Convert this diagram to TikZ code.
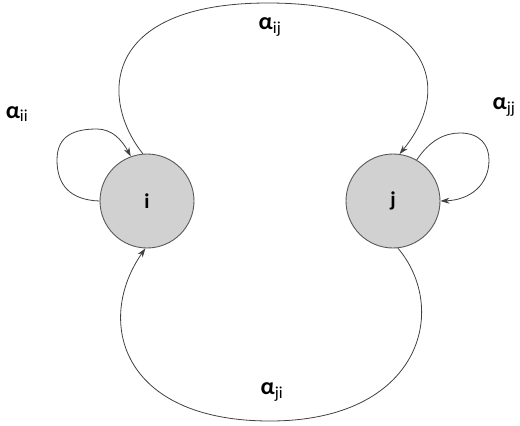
\documentclass[tikz,border=0pt]{standalone}
\usepackage{fontspec}
\setmainfont{Carlito}
\usetikzlibrary{arrows.meta}
\begin{document}
\begin{tikzpicture}[>={Stealth[length=9pt,width=6pt]},x=1pt,y=-1pt]
    \useasboundingbox (0,0) rectangle (520,426);
    \tikzset{state/.style={circle,draw=black!65,line width=0.9pt,fill=black!18,minimum size=94pt,inner sep=0pt,font=\fontsize{21}{24}\selectfont\bfseries},
             lbl/.style={font=\fontsize{24}{28}\selectfont},
             arc/.style={->,black!75,line width=0.8pt}}
    \node[state](i) at (147,201){i};
    \node[state](j) at (393,201){j};
    \node[lbl](aii) at (17,114){\textbf{α}\textsubscript{ii}};
    \node[lbl](aij) at (270,27){\textbf{α}\textsubscript{ij}};
    \node[lbl](ajj) at (504,107){\textbf{α}\textsubscript{jj}};
    \node[lbl](aji) at (272,392){\textbf{α}\textsubscript{ji}};
    \coordinate (top) at (268,3);
    \coordinate (bot) at (270,421);
    \draw[arc](i.95) .. controls (100,100) and (100,3) .. (top) .. controls (420,3) and (460,80) .. (j.82);
    \draw[arc](j.-84) .. controls (450,310) and (420,421) .. (bot) .. controls (120,421) and (95,320) .. (i.-92);
    \draw[arc](i.180) .. controls (70,200) and (57,185) .. (57,160) .. controls (57,135) and (75,129) .. (97,129) .. controls (112,129) and (122,140) .. (i.110);
    \draw[arc](j.60) .. controls (430,140) and (445,133) .. (460,133) .. controls (480,133) and (489,145) .. (489,160) .. controls (489,185) and (470,200) .. (j.0);
\end{tikzpicture}
\end{document}
